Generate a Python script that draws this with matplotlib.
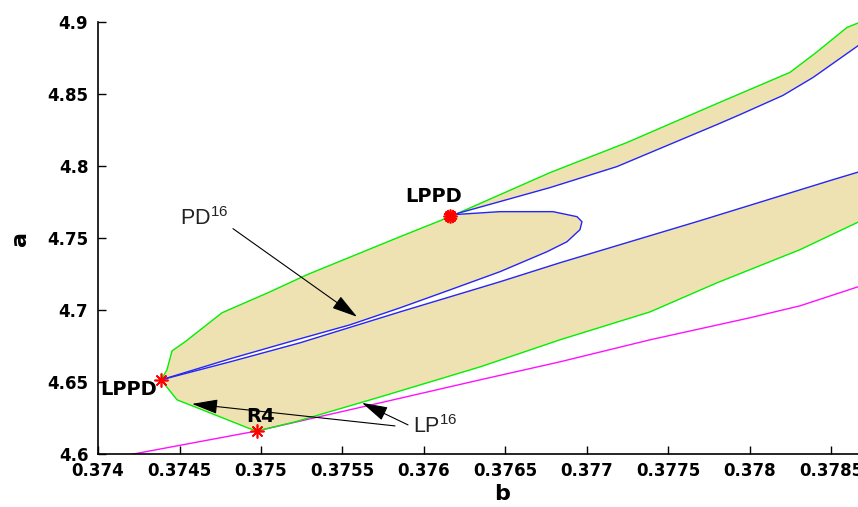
import matplotlib
matplotlib.use("Agg")
import matplotlib.pyplot as plt

plt.rcParams['mathtext.fontset'] = 'custom'
plt.rcParams['mathtext.rm'] = 'Liberation Sans'

# ---- data (b on x, a on y) ----
# green LP curve: upper-right branch (from LPPD upward), upper-left branch, lower branch
green_up_b = [0.376160, 0.376773, 0.377245, 0.377798, 0.378245, 0.378399, 0.378595, 0.378700]
green_up_a = [4.7648, 4.7954, 4.8163, 4.8434, 4.8650, 4.8782, 4.8962, 4.9010]

green_left_b = [0.376160, 0.375853, 0.375282, 0.375043, 0.374761, 0.374706, 0.374534, 0.374454, 0.374423, 0.374387]
green_left_a = [4.7648, 4.7509, 4.7245, 4.7120, 4.6981, 4.6932, 4.6779, 4.6716, 4.6584, 4.6515]

green_low_b = [0.374387, 0.374485, 0.374595, 0.374920, 0.374975, 0.375209, 0.375730, 0.376344,
               0.376834, 0.377387, 0.377798, 0.378307, 0.378700]
green_low_a = [4.6515, 4.6376, 4.6327, 4.6181, 4.6160, 4.6223, 4.6396, 4.6605,
               4.6793, 4.6987, 4.7189, 4.7419, 4.7630]

# blue PD curves
blue_up_b = [0.376178, 0.376773, 0.377184, 0.377798, 0.377939, 0.378202, 0.378387, 0.378700]
blue_up_a = [4.7662, 4.7850, 4.7996, 4.8288, 4.8357, 4.8490, 4.8615, 4.8865]

loop_b = [0.376178, 0.376466, 0.376791, 0.376939, 0.376969, 0.376957, 0.376877, 0.376755,
          0.376466, 0.376160, 0.375853, 0.375546, 0.375239, 0.374810, 0.374387]
loop_a = [4.7662, 4.7683, 4.7683, 4.7648, 4.7613, 4.7558, 4.7474, 4.7405,
          4.7266, 4.7140, 4.7015, 4.6897, 4.6800, 4.6661, 4.6515]

blue_low_b = [0.374387, 0.374810, 0.375239, 0.375853, 0.376466, 0.376834, 0.377693, 0.378509, 0.378700]
blue_low_a = [4.6515, 4.6640, 4.6772, 4.6987, 4.7196, 4.7328, 4.7620, 4.7905, 4.7970]

# magenta curve
mag_b = [0.374170, 0.374975, 0.375730, 0.376344, 0.376834, 0.377387, 0.378000, 0.378307, 0.378700]
mag_a = [4.5990, 4.6160, 4.6355, 4.6515, 4.6640, 4.6793, 4.6946, 4.7029, 4.7175]

# special points
pt_labels = ['LPPD', 'LPPD', 'R4']
pt_b = [0.376160, 0.374387, 0.374975]
pt_a = [4.7655, 4.6515, 4.6160]

xticks = [0.374, 0.3745, 0.375, 0.3755, 0.376, 0.3765, 0.377, 0.3775, 0.378, 0.3785]
xticklabels = ['0.374', '0.3745', '0.375', '0.3755', '0.376', '0.3765', '0.377', '0.3775', '0.378', '0.3785']
yticks = [4.6, 4.65, 4.7, 4.75, 4.8, 4.85, 4.9]
yticklabels = ['4.6', '4.65', '4.7', '4.75', '4.8', '4.85', '4.9']

# ---- figure ----
W, H = 858, 507
fig = plt.figure(figsize=(W / 100, H / 100), dpi=100)
ax = fig.add_axes([98 / W, (H - 454) / H, 815 / W, 432 / H])

tan = '#EEE2B2'
green = '#00F000'
blue = '#2525F5'
mag = '#FF10FF'

# fills
ax.fill(loop_b + green_left_b[::-1], loop_a + green_left_a[::-1], color=tan, lw=0, zorder=1)
ax.fill(blue_low_b + green_low_b[::-1], blue_low_a + green_low_a[::-1], color=tan, lw=0, zorder=1)
ax.fill(green_up_b + blue_up_b[::-1], green_up_a + blue_up_a[::-1], color=tan, lw=0, zorder=1)

lw = 1.0
ax.plot(green_up_b, green_up_a, color=green, lw=lw, zorder=3)
ax.plot(green_left_b, green_left_a, color=green, lw=lw, zorder=3)
ax.plot(green_low_b, green_low_a, color=green, lw=lw, zorder=3)
ax.plot(mag_b, mag_a, color=mag, lw=lw, zorder=2)
ax.plot(blue_up_b, blue_up_a, color=blue, lw=lw, zorder=4)
ax.plot(loop_b, loop_a, color=blue, lw=lw, zorder=4)
ax.plot(blue_low_b, blue_low_a, color=blue, lw=lw, zorder=4)

ax.plot(pt_b, pt_a, linestyle='none', marker=(8, 2, 0), markersize=10,
        markeredgecolor='red', markeredgewidth=1.2, zorder=6)
ax.plot(pt_b[:1], pt_a[:1], linestyle='none', marker=(8, 2, 22.5), markersize=10,
        markeredgecolor='red', markeredgewidth=1.2, zorder=6)

bold = dict(family='DejaVu Sans', fontweight='bold', fontsize=14, color='black')
ax.text(0.376061, 4.7752, pt_labels[0], ha='center', va='baseline', zorder=7, **bold)
ax.text(0.374190, 4.6410, pt_labels[1], ha='center', va='baseline', zorder=7, **bold)
ax.text(0.375000, 4.6223, pt_labels[2], ha='center', va='baseline', zorder=7, **bold)

norm = dict(family='Liberation Sans', fontsize=15.5, color='#222222')
ax.text(0.374503, 4.7592, r'PD$^{\mathregular{16}}$', ha='left', va='baseline', zorder=7, **norm)
ax.text(0.375933, 4.6146, r'LP$^{\mathregular{16}}$', ha='left', va='baseline', zorder=7, **norm)

ap = dict(arrowstyle='-|>,head_length=1.6,head_width=0.45', mutation_scale=10,
          lw=0.8, color='black', shrinkA=0, shrinkB=0)
ax.annotate('', xy=(0.375589, 4.6953), xytext=(0.374828, 4.7565), arrowprops=ap, zorder=8)
ax.annotate('', xy=(0.375620, 4.6355), xytext=(0.375902, 4.6202), arrowprops=ap, zorder=8)
ax.annotate('', xy=(0.374577, 4.6348), xytext=(0.375822, 4.6195), arrowprops=ap, zorder=8)

ax.set_xlim(0.374, 0.379)
ax.set_ylim(4.6, 4.9)
ax.set_xticks(xticks)
ax.set_xticklabels(xticklabels)
ax.set_yticks(yticks)
ax.set_yticklabels(yticklabels)
for s in ['top', 'right']:
    ax.spines[s].set_visible(False)
for s in ['left', 'bottom']:
    ax.spines[s].set_linewidth(1.2)
ax.tick_params(direction='in', length=6, width=1.0)
ax.tick_params(axis='x', pad=6)
ax.tick_params(axis='y', pad=7)
for lab in ax.get_xticklabels() + ax.get_yticklabels():
    lab.set_fontfamily('DejaVu Sans')
    lab.set_fontweight('bold')
    lab.set_fontsize(12)

ax.set_xlabel('b', family='DejaVu Sans', fontweight='bold', fontsize=16)
ax.set_ylabel('a', family='DejaVu Sans', fontweight='bold', fontsize=16)
ax.xaxis.set_label_coords(0.4957, -0.07)
ax.yaxis.set_label_coords(-0.083, 0.5)

fig.savefig('out.png', dpi=100)
